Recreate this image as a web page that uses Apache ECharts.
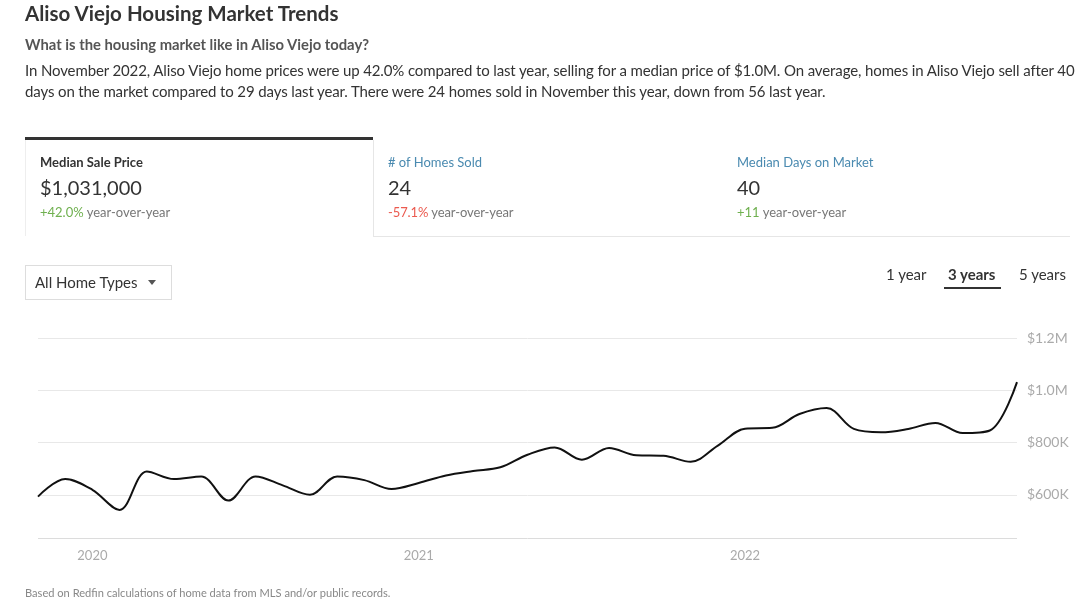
<!DOCTYPE html>
<html>
<head>
<meta charset="utf-8">
<script src="https://cdn.jsdelivr.net/npm/echarts@6/dist/echarts.min.js"></script>
<style>
  html, body { margin:0; padding:0; width:1080px; height:606px; background:#fff; overflow:hidden; }
  body { font-family: Lato, "Open Sans", sans-serif; color:#333; position:relative; }
  #chart { position:absolute; left:0; top:0; width:1080px; height:606px; z-index:0; }
  .t { position:absolute; white-space:nowrap; z-index:1; }
  .box { position:absolute; z-index:1; box-sizing:border-box; }
</style>
</head>
<body>
<div id="chart"></div>

<div class="t" style="left:25px;top:1px;font-size:20.5px;font-weight:700;color:#333;">Aliso Viejo Housing Market Trends</div>
<div class="t" style="left:25px;top:35px;font-size:14.8px;font-weight:700;color:#555;">What is the housing market like in Aliso Viejo today?</div>
<div class="t" style="left:25px;top:61px;font-size:15px;letter-spacing:-0.12px;color:#333;">In November 2022, Aliso Viejo home prices were up 42.0% compared to last year, selling for a median price of $1.0M. On average, homes in Aliso Viejo sell after 40</div>
<div class="t" style="left:25px;top:82px;font-size:15px;letter-spacing:-0.12px;color:#333;">days on the market compared to 29 days last year. There were 24 homes sold in November this year, down from 56 last year.</div>

<div class="box" style="left:25px;top:137px;width:348px;height:3px;background:#333;"></div>
<div class="box" style="left:25px;top:140px;width:1px;height:96px;background:#eee;"></div>
<div class="box" style="left:373px;top:140px;width:1px;height:97px;background:#e6e6e6;"></div>
<div class="box" style="left:373px;top:236px;width:697px;height:1px;background:#e6e6e6;"></div>

<div class="t" style="left:40px;top:154px;font-size:13px;font-weight:700;color:#333;">Median Sale Price</div>
<div class="t" style="left:40px;top:175px;font-size:20px;color:#333;">$1,031,000</div>
<div class="t" style="left:40px;top:204px;font-size:13px;color:#777;"><span style="color:#6fb04f">+42.0%</span> year-over-year</div>

<div class="t" style="left:388px;top:154px;font-size:13px;color:#4a8ab0;"># of Homes Sold</div>
<div class="t" style="left:388px;top:175px;font-size:20px;color:#333;">24</div>
<div class="t" style="left:388px;top:204px;font-size:13px;letter-spacing:-0.1px;color:#777;"><span style="color:#eb5a4f">-57.1%</span> year-over-year</div>

<div class="t" style="left:737px;top:154px;font-size:13px;color:#4a8ab0;">Median Days on Market</div>
<div class="t" style="left:737px;top:175px;font-size:20px;color:#333;">40</div>
<div class="t" style="left:737px;top:204px;font-size:13px;color:#777;"><span style="color:#6fb04f">+11</span> year-over-year</div>

<div class="box" style="left:25px;top:265px;width:147px;height:35px;border:1px solid #ddd;"></div>
<div class="t" style="left:35px;top:273px;font-size:15px;color:#333;">All Home Types</div>
<div class="box" style="left:148px;top:280px;width:0;height:0;border-left:4px solid transparent;border-right:4px solid transparent;border-top:5px solid #555;"></div>

<div class="t" style="left:886px;top:265px;font-size:15px;color:#333;">1 year</div>
<div class="t" style="left:948px;top:265px;font-size:15px;font-weight:700;color:#333;">3 years</div>
<div class="t" style="left:1019px;top:265px;font-size:15px;color:#333;">5 years</div>
<div class="box" style="left:944px;top:287px;width:57px;height:2px;background:#333;"></div>

<div class="t" style="left:25px;top:586px;font-size:11.1px;color:#888;">Based on Redfin calculations of home data from MLS and/or public records.</div>

<script>
const months = ['2019-11','2019-12',
  '2020-01','2020-02','2020-03','2020-04','2020-05','2020-06','2020-07','2020-08','2020-09','2020-10','2020-11','2020-12',
  '2021-01','2021-02','2021-03','2021-04','2021-05','2021-06','2021-07','2021-08','2021-09','2021-10','2021-11','2021-12',
  '2022-01','2022-02','2022-03','2022-04','2022-05','2022-06','2022-07','2022-08','2022-09','2022-10','2022-11'];
const medianPrice = [593000,660000,
  619000,542000,689000,660000,670000,578000,670000,636000,600000,670000,656000,622000,
  645000,674000,691000,705000,753000,781000,734000,779000,751000,749000,726000,788000,
  853000,856000,909000,932000,852000,839000,852000,875000,836000,846000,1031000];
const yearLabels = ['2020','2021','2022'];
const yTicks = [600000,800000,1000000,1200000];
const baseValue = 434000;

const chart = echarts.init(document.getElementById('chart'));
function fmt(v){ return v >= 1000000 ? '$' + (v/1000000).toFixed(1) + 'M' : '$' + Math.round(v/1000) + 'K'; }
chart.setOption({
  animation:false,
  grid:{ left:38, right:63, top:338, bottom:59 },
  xAxis:{
    type:'category', data:months, boundaryGap:false,
    axisLine:{show:false}, axisTick:{show:false},
    axisLabel:{
      color:'#aaa', fontSize:13, fontFamily:'Lato', margin:2,
      interval:function(i, v){ return yearLabels.indexOf(v.slice(0,4)) >= 0 && v.slice(5) === '01'; },
      formatter:function(v){ return v.slice(0,4); }
    },
    splitLine:{show:false}
  },
  yAxis:{
    type:'value', position:'right', min:400000, max:1200000, interval:200000,
    axisLine:{show:false}, axisTick:{show:false},
    axisLabel:{ color:'#aaa', fontSize:14, fontFamily:'Lato', margin:10,
      formatter:function(v){ return yTicks.indexOf(v) >= 0 ? fmt(v) : ''; } },
    splitLine:{ showMinLine:false, lineStyle:{ color:'#e8e8e8', width:1 } }
  },
  series:[{
    type:'line', data:medianPrice, smooth:0.35, symbol:'none',
    lineStyle:{ color:'#111', width:2 },
    markLine:{ silent:true, symbol:['none','none'], label:{show:false},
      lineStyle:{ color:'#dcdcdc', type:'solid', width:1 },
      data:[{ yAxis:baseValue }] }
  }]
});
</script>
</body>
</html>
